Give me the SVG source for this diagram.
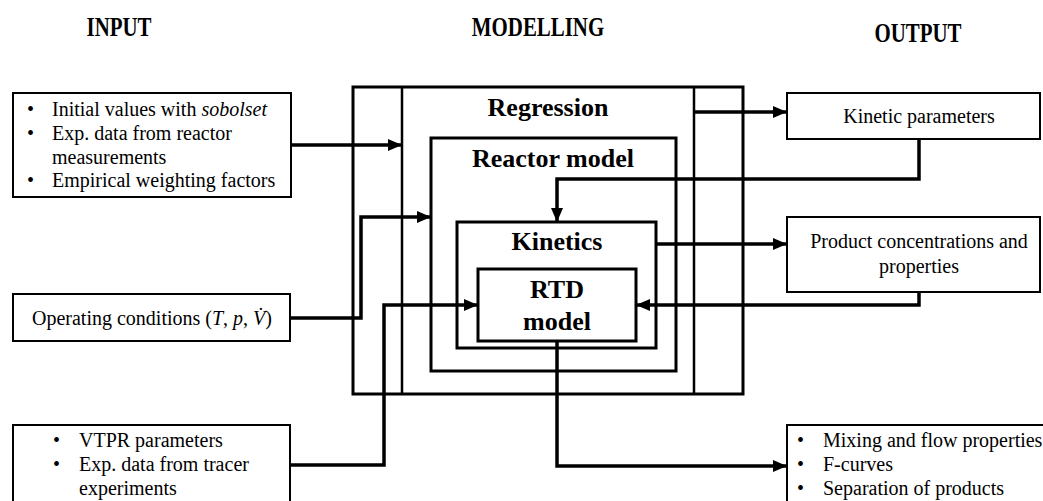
<svg xmlns="http://www.w3.org/2000/svg" width="1043" height="501" viewBox="0 0 1043 501" font-family="Liberation Serif, DejaVu Serif, serif">
<style>
text{font-family:'Liberation Serif','DejaVu Serif',serif}
.t{font-size:20px;fill:#000}
.b{font-size:26px;font-weight:bold;fill:#000;text-anchor:middle}
.h{font-size:22px;font-weight:bold;fill:#000;text-anchor:middle}
.box{fill:#fff;stroke:#000;stroke-width:2}
.mb{fill:none;stroke:#000;stroke-width:3}
.ml{fill:none;stroke:#000;stroke-width:2.5}
.a{fill:none;stroke:#000;stroke-width:3.5;marker-end:url(#ah)}
.m{text-anchor:middle}
</style>
<defs>
<marker id="ah" markerUnits="userSpaceOnUse" markerWidth="14" markerHeight="12" refX="14" refY="6" orient="auto">
<path d="M0,0 L14,6 L0,12 Z" fill="#000"/>
</marker>
</defs>
<rect width="1043" height="501" fill="#fff"/>
<g id="headers">
<text class="h" transform="translate(119,36) scale(0.95,1.2)">INPUT</text>
<text class="h" transform="translate(538,36) scale(0.95,1.2)">MODELLING</text>
<text class="h" transform="translate(918,42) scale(0.95,1.2)">OUTPUT</text>
</g>
<g id="regression">
<rect class="mb" x="353" y="87" width="390" height="307"/>
<line class="ml" x1="402" y1="87" x2="402" y2="394"/>
<line class="ml" x1="694" y1="87" x2="694" y2="394"/>
<text class="b" x="548" y="116">Regression</text>
</g>
<g id="reactor-model">
<rect class="mb" x="431" y="138" width="245" height="233"/>
<text class="b" x="553" y="167">Reactor model</text>
</g>
<g id="kinetics">
<rect class="mb" x="457" y="222" width="199" height="126"/>
<text class="b" x="557" y="250">Kinetics</text>
</g>
<g id="rtd-model">
<rect class="mb" x="478" y="269" width="158" height="72"/>
<text class="b" x="557" y="298">RTD</text>
<text class="b" x="557" y="330">model</text>
</g>
<g id="connectors">
<polyline class="a" points="291,145 402,145"/>
<polyline class="a" points="290,318 361,318 361,217 431,217"/>
<polyline class="a" points="290,465 384,465 384,305 478,305"/>
<polyline class="a" points="694,112 787,112"/>
<polyline class="a" points="656,244 787,244"/>
<polyline class="a" points="919,139 919,179 557,179 557,222"/>
<polyline class="a" points="919,292 919,305 636,305"/>
<polyline class="a" points="557,341 557,466 787,466"/>
</g>
<g id="input-1">
<rect class="box" x="13" y="93" width="278" height="104"/>
<text class="t"><tspan x="27" y="116">•</tspan><tspan x="52" y="116">Initial values with <tspan font-style="italic">sobolset</tspan></tspan></text>
<text class="t"><tspan x="27" y="140">•</tspan><tspan x="52" y="140">Exp. data from reactor</tspan></text>
<text class="t" x="52" y="163.5">measurements</text>
<text class="t"><tspan x="27" y="187">•</tspan><tspan x="52" y="187">Empirical weighting factors</tspan></text>
</g>
<g id="input-2">
<rect class="box" x="13" y="294" width="277" height="47"/>
<text class="t" x="32" y="325">Operating conditions (<tspan font-style="italic">T</tspan>, <tspan font-style="italic">p</tspan>, <tspan font-style="italic">V̇</tspan>)</text>
</g>
<g id="input-3">
<rect class="box" x="13" y="425" width="277" height="80"/>
<text class="t"><tspan x="53" y="447">•</tspan><tspan x="79" y="447">VTPR parameters</tspan></text>
<text class="t"><tspan x="53" y="471">•</tspan><tspan x="79" y="471">Exp. data from tracer</tspan></text>
<text class="t" x="79" y="495">experiments</text>
</g>
<g id="output-1">
<rect class="box" x="787" y="93" width="253" height="46"/>
<text class="t m" x="919" y="123">Kinetic parameters</text>
</g>
<g id="output-2">
<rect class="box" x="787" y="217" width="253" height="75"/>
<text class="t m" x="919" y="248">Product concentrations and</text>
<text class="t m" x="919" y="273">properties</text>
</g>
<g id="output-3">
<rect class="box" x="787" y="425" width="260" height="80"/>
<text class="t"><tspan x="797" y="447">•</tspan><tspan x="823" y="447">Mixing and flow properties</tspan></text>
<text class="t"><tspan x="797" y="471">•</tspan><tspan x="823" y="471">F-curves</tspan></text>
<text class="t"><tspan x="797" y="495">•</tspan><tspan x="823" y="495">Separation of products</tspan></text>
</g>
</svg>
